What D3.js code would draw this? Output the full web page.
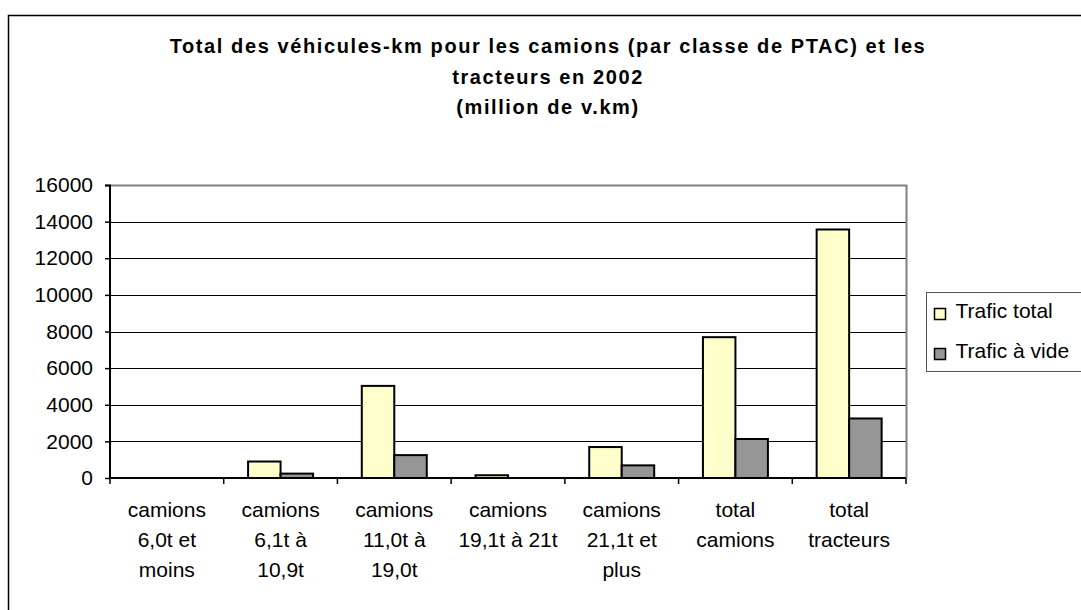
<!DOCTYPE html>
<meta charset="utf-8">
<head>
	<style>
		body {
			margin: 0;
			background: white;
			font-family: "Liberation Sans", Arial, sans-serif;
		}
		svg {
			display: block;
		}
	</style>
	<script src="https://cdn.jsdelivr.net/npm/d3@7"></script>
</head>

<body>
	<svg id="chart"></svg>
</body>

<script>

	// values (million de v.km)
	let categories = [
		["camions", "6,0t et", "moins"],
		["camions", "6,1t à", "10,9t"],
		["camions", "11,0t à", "19,0t"],
		["camions", "19,1t à 21t"],
		["camions", "21,1t et", "plus"],
		["total", "camions"],
		["total", "tracteurs"]
	]
	let traficTotal = [0, 900, 5030, 150, 1690, 7690, 13570]
	let traficVide = [0, 240, 1250, 0, 690, 2130, 3250]
	let seriesNames = ["Trafic total", "Trafic à vide"]
	let seriesColors = ["#FFFFCC", "#969696"]
	let yTicks = [0, 2000, 4000, 6000, 8000, 10000, 12000, 14000, 16000]
	let titleLines = [
		"Total des véhicules-km pour les camions (par classe de PTAC) et les",
		"tracteurs en 2002",
		"(million de v.km)"
	]

	function getConfig() {
		let width = 1081
		let height = 610
		let margin = {top: 185, left: 110}
		let bodyWidth = 796
		let bodyHeight = 293
		let container = d3.select("#chart")
			.attr("width", width)
			.attr("height", height)
		return {width, height, margin, bodyWidth, bodyHeight, container}
	}

	function getScales(config) {
		let {bodyWidth, bodyHeight} = config
		let keys = categories.map((c, i) => i)

		let xScale = d3.scaleBand()
			.domain(keys)
			.range([0, bodyWidth])
			.padding(0)

		// two bars per group, gap width like the spreadsheet default
		let xSub = d3.scaleBand()
			.domain([0, 1])
			.range([0, xScale.bandwidth()])
			.paddingInner(0)
			.paddingOuter(0.75)

		let yScale = d3.scaleLinear()
			.domain([0, 16000])
			.range([bodyHeight, 0])

		return {xScale, xSub, yScale}
	}

	function drawFrame(config) {
		let {container} = config
		// outer chart border, runs off the right and bottom edge like the original
		container.append("rect")
			.attr("x", 8.5)
			.attr("y", 15.5)
			.attr("width", 1100)
			.attr("height", 620)
			.attr("fill", "white")
			.attr("stroke", "black")
			.attr("stroke-width", 1.5)

		let title = container.append("text")
			.attr("x", 548)
			.attr("y", 53)
			.attr("text-anchor", "middle")
			.style("font-size", "20px")
			.style("font-weight", "bold")
			.style("letter-spacing", "1.6px")

		title.selectAll("tspan")
			.data(titleLines)
			.enter()
			.append("tspan")
			.attr("x", 548)
			.attr("dy", (d, i) => i == 0 ? 0 : 30.5)
			.text(d => d)
	}

	function drawGrid(scales, config) {
		let {yScale} = scales
		let {container, margin, bodyWidth, bodyHeight} = config

		let body = container.append("g")
			.attr("transform", `translate(${margin.left},${margin.top})`)

		body.selectAll(".grid")
			.data(yTicks.filter(t => t > 0 && t < 16000))
			.enter()
			.append("line")
			.attr("x1", 0)
			.attr("x2", bodyWidth)
			.attr("y1", d => Math.round(yScale(d)) + 0.5)
			.attr("y2", d => Math.round(yScale(d)) + 0.5)
			.attr("stroke", "black")
			.attr("stroke-width", 1)

		// grey plot area border (top and right)
		body.append("path")
			.attr("d", `M0,0.5H${bodyWidth + 0.5}V${bodyHeight}`)
			.attr("fill", "none")
			.attr("stroke", "#808080")
			.attr("stroke-width", 2)
	}

	function drawBars(scales, config) {
		let {xScale, xSub, yScale} = scales
		let {container, margin} = config

		let rows = categories.map((c, i) => [traficTotal[i], traficVide[i]])

		let body = container.append("g")
			.attr("transform", `translate(${margin.left},${margin.top})`)

		let groups = body.selectAll(".group")
			.data(rows)
			.enter()
			.append("g")
			.attr("transform", (d, i) => `translate(${xScale(i)},0)`)

		groups.selectAll("rect")
			.data(d => d)
			.enter()
			.append("rect")
			.attr("x", (d, j) => xSub(j))
			.attr("width", xSub.bandwidth())
			.attr("y", d => yScale(d))
			.attr("height", d => yScale(0) - yScale(d))
			.attr("fill", (d, j) => seriesColors[j])
			.attr("stroke", "black")
			.attr("stroke-width", 2)
	}

	function drawAxes(scales, config) {
		let {xScale, yScale} = scales
		let {container, margin, bodyHeight} = config

		let axisY = d3.axisLeft(yScale)
			.tickValues(yTicks)
			.tickFormat(d3.format("d"))
			.tickSize(5)
			.tickPadding(12)

		let gy = container.append("g")
			.attr("transform", `translate(${margin.left},${margin.top})`)
			.call(axisY)
		gy.select(".domain").attr("stroke", "black").attr("stroke-width", 2)
			.attr("d", `M-5,0.5H0V${bodyHeight}`)
		gy.selectAll(".tick line").attr("stroke", "black").attr("stroke-width", 1.5)
		gy.selectAll("text")
			.style("font-family", "Liberation Sans, Arial, sans-serif")
			.style("font-size", "21px")
			.attr("fill", "black")

		// x axis: line with tick marks at category boundaries
		let gx = container.append("g")
			.attr("transform", `translate(${margin.left},${margin.top + bodyHeight})`)

		gx.append("line")
			.attr("x1", 0)
			.attr("x2", xScale.range()[1])
			.attr("stroke", "black")
			.attr("stroke-width", 2)

		let bounds = categories.map((c, i) => xScale(i)).concat([xScale.range()[1]])
		gx.selectAll(".xtick")
			.data(bounds)
			.enter()
			.append("line")
			.attr("x1", d => d)
			.attr("x2", d => d)
			.attr("y1", 0)
			.attr("y2", 6)
			.attr("stroke", "black")
			.attr("stroke-width", 1.5)

		let labels = gx.selectAll(".xlabel")
			.data(categories)
			.enter()
			.append("text")
			.attr("text-anchor", "middle")
			.style("font-size", "21px")

		labels.selectAll("tspan")
			.data((d, i) => d.map(line => ({line, i})))
			.enter()
			.append("tspan")
			.attr("x", d => xScale(d.i) + xScale.bandwidth() / 2)
			.attr("y", (d, k) => 39 + k * 30)
			.text(d => d.line)
	}

	function drawLegend(config) {
		let {container} = config
		let legend = container.append("g")
			.attr("transform", "translate(926.5,292.5)")

		legend.append("rect")
			.attr("width", 170)
			.attr("height", 79)
			.attr("fill", "white")
			.attr("stroke", "#555")
			.attr("stroke-width", 1)

		let items = legend.selectAll(".item")
			.data(seriesNames)
			.enter()
			.append("g")
			.attr("transform", (d, i) => `translate(8,${16 + i * 40})`)

		items.append("rect")
			.attr("width", 11)
			.attr("height", 11)
			.attr("fill", (d, i) => seriesColors[i])
			.attr("stroke", "black")
			.attr("stroke-width", 1.5)

		items.append("text")
			.attr("x", 21)
			.attr("y", 9)
			.style("font-size", "21px")
			.text(d => d)
	}

	function showChart() {
		let config = getConfig()
		let scales = getScales(config)
		drawFrame(config)
		drawGrid(scales, config)
		drawBars(scales, config)
		drawAxes(scales, config)
		drawLegend(config)
	}

	showChart()

</script>
